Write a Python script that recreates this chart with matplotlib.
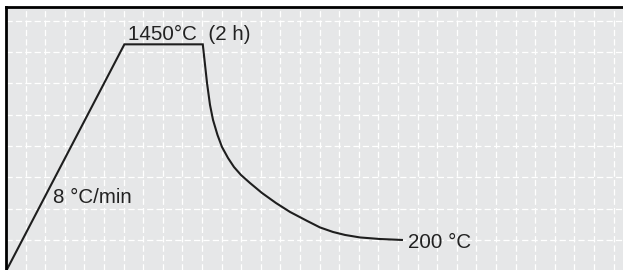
import matplotlib
matplotlib.use("Agg")
import matplotlib.pyplot as plt
import numpy as np

# Firing profile: time (h) vs temperature (°C)
ramp_time = [0.0, 3.02]
ramp_temp = [0, 1450]
hold_time = [3.02, 5.02]
hold_temp = [1450, 1450]
cool_time = [5.02, 5.064, 5.128, 5.204, 5.281, 5.395, 5.510, 5.663, 5.816, 5.995,
             6.224, 6.531, 6.888, 7.245, 7.679, 8.010, 8.342, 8.648, 9.031, 9.541, 10.10]
cool_temp = [1450, 1350, 1203, 1063, 967, 871, 794, 724, 666, 615,
             564, 500, 436, 379, 322, 280, 251, 232, 216, 206, 200]

label_peak = "1450°C  (2 h)"
label_rate = "8 °C/min"
label_end = "200 °C"

W, H = 623, 270
fig = plt.figure(figsize=(W / 100, H / 100), dpi=100)
fig.patch.set_facecolor("white")
ax = fig.add_axes([6 / W, 0, 1 - 6 / W, (270 - 7) / H])
ax.set_facecolor("#e6e7e8")

ax.set_xlim(0, 617 / 39.2)
ax.set_ylim(8, 8 + 263 * 6.39)

ax.set_xticks(np.arange(0.5, 16, 0.5))
ax.set_yticks(np.arange(200, 1700, 200))
ax.grid(True, color="white", linewidth=0.9, linestyle=(0, (5, 2.5)))
ax.set_axisbelow(True)
ax.tick_params(length=0, labelbottom=False, labelleft=False)

for s in ["right", "bottom"]:
    ax.spines[s].set_visible(False)
for s in ["top", "left"]:
    ax.spines[s].set_linewidth(2.0)
    ax.spines[s].set_color("black")

lc = "#1e1e1e"
t_all = ramp_time + hold_time[1:] + cool_time[1:]
T_all = ramp_temp + hold_temp[1:] + cool_temp[1:]
ax.plot(t_all, T_all, color=lc, linewidth=1.5, solid_joinstyle="miter", clip_on=True)

font = dict(family=["Liberation Sans", "DejaVu Sans"], fontsize=14.8, color="#222222")
ax.text(3.11, 1478, label_peak, ha="left", va="baseline", **font)
ax.text(1.20, 438, label_rate, ha="left", va="baseline", **font)
ax.text(10.26, 151, label_end, ha="left", va="baseline", **font)

fig.savefig("out.png", dpi=100, facecolor="white")
